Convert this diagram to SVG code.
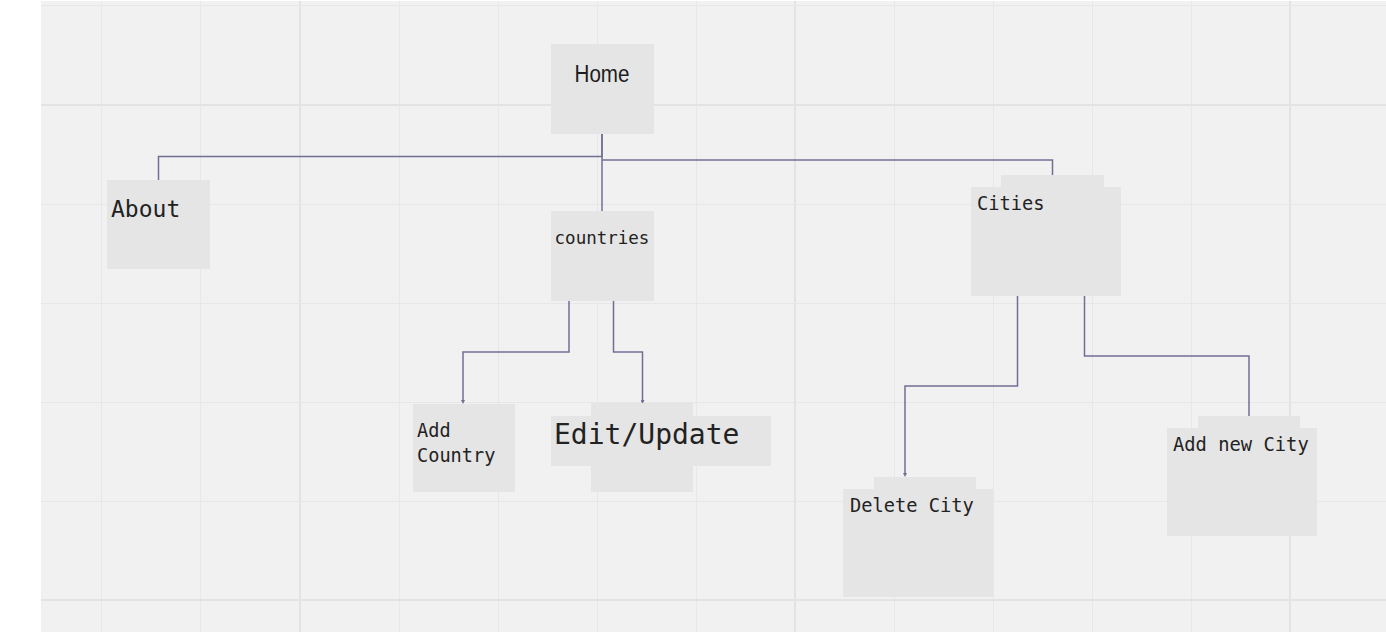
<svg xmlns="http://www.w3.org/2000/svg" width="1386" height="640" viewBox="0 0 1386 640">
<defs>
<style>
.bg{fill:#f1f1f1}
.gmin{stroke:#e7e7e7;stroke-width:1}
.gmaj{stroke:#e3e3e3;stroke-width:2}
.box{fill:#e5e5e5}
.lbl{font-family:"DejaVu Sans Mono","Liberation Mono",monospace;fill:#222}
.sans{font-family:"Liberation Sans",Arial,sans-serif;fill:#1e1e1e}
.conn{fill:none;stroke:#726f95;stroke-width:1.5}
</style>
<marker id="arr" markerWidth="4" markerHeight="4" refX="2" refY="2" orient="auto" markerUnits="userSpaceOnUse">
<path d="M0,0 L4,2 L0,4 Z" fill="#726f95"/>
</marker>
</defs>
<rect x="0" y="0" width="1386" height="640" fill="#ffffff"/>
<rect class="bg" x="41" y="1" width="1345" height="631"/>
<g id="grid">
<line class="gmin" x1="101.5" y1="1" x2="101.5" y2="632"/>
<line class="gmin" x1="200.5" y1="1" x2="200.5" y2="632"/>
<line class="gmaj" x1="300" y1="1" x2="300" y2="632"/>
<line class="gmin" x1="399.5" y1="1" x2="399.5" y2="632"/>
<line class="gmin" x1="498.5" y1="1" x2="498.5" y2="632"/>
<line class="gmin" x1="597.5" y1="1" x2="597.5" y2="632"/>
<line class="gmin" x1="696.5" y1="1" x2="696.5" y2="632"/>
<line class="gmaj" x1="795" y1="1" x2="795" y2="632"/>
<line class="gmin" x1="894.5" y1="1" x2="894.5" y2="632"/>
<line class="gmin" x1="993.5" y1="1" x2="993.5" y2="632"/>
<line class="gmin" x1="1092.5" y1="1" x2="1092.5" y2="632"/>
<line class="gmin" x1="1191.5" y1="1" x2="1191.5" y2="632"/>
<line class="gmaj" x1="1290" y1="1" x2="1290" y2="632"/>
<line class="gmin" x1="41" y1="5.5" x2="1386" y2="5.5"/>
<line class="gmaj" x1="41" y1="105" x2="1386" y2="105"/>
<line class="gmin" x1="41" y1="204.5" x2="1386" y2="204.5"/>
<line class="gmin" x1="41" y1="303.5" x2="1386" y2="303.5"/>
<line class="gmin" x1="41" y1="402.5" x2="1386" y2="402.5"/>
<line class="gmin" x1="41" y1="501.5" x2="1386" y2="501.5"/>
<line class="gmaj" x1="41" y1="600" x2="1386" y2="600"/>
</g>
<g id="connectors">
<polyline class="conn" points="602,134 602,156.5 158.5,156.5 158.5,180"/>
<polyline class="conn" points="602,134 602,211"/>
<polyline class="conn" points="602,160 1052.5,160 1052.5,175"/>
<polyline class="conn" points="569,301 569,352 463,352 463,402" marker-end="url(#arr)"/>
<polyline class="conn" points="613.5,301 613.5,352 642.5,352 642.5,402" marker-end="url(#arr)"/>
<polyline class="conn" points="1017.5,296 1017.5,386 905,386 905,475" marker-end="url(#arr)"/>
<polyline class="conn" points="1084.5,296 1084.5,356 1249,356 1249,416"/>
</g>
<g id="home">
<rect class="box" x="551" y="44" width="103" height="90"/>
<text class="sans" x="602" y="82" font-size="23.5" text-anchor="middle" textLength="55" lengthAdjust="spacingAndGlyphs">Home</text>
</g>
<g id="about">
<rect class="box" x="107" y="180" width="103" height="89"/>
<text class="lbl" x="111" y="217" font-size="23">About</text>
</g>
<g id="countries">
<rect class="box" x="551" y="211" width="103" height="90"/>
<text class="lbl" x="602" y="244" font-size="17.5" text-anchor="middle">countries</text>
</g>
<g id="cities">
<rect class="box" x="1001" y="175" width="103" height="13"/>
<rect class="box" x="971" y="187" width="150" height="109"/>
<text class="lbl" x="977" y="210" font-size="18.7">Cities</text>
</g>
<g id="add-country">
<rect class="box" x="413" y="404" width="102" height="88"/>
<text class="lbl" x="417" y="437" font-size="18.6">Add</text>
<text class="lbl" x="417" y="462" font-size="18.6">Country</text>
</g>
<g id="edit-update">
<rect class="box" x="591" y="403" width="102" height="89"/>
<rect class="box" x="551" y="416" width="220" height="50"/>
<text class="lbl" x="554" y="444" font-size="28">Edit/Update</text>
</g>
<g id="delete-city">
<rect class="box" x="874" y="477" width="102" height="13"/>
<rect class="box" x="843" y="489" width="150" height="108"/>
<text class="lbl" x="850" y="512" font-size="18.7">Delete City</text>
</g>
<g id="add-new-city">
<rect class="box" x="1198" y="416" width="102" height="13"/>
<rect class="box" x="1167" y="428" width="150" height="108"/>
<text class="lbl" x="1173" y="451" font-size="18.8">Add new City</text>
</g>
</svg>
